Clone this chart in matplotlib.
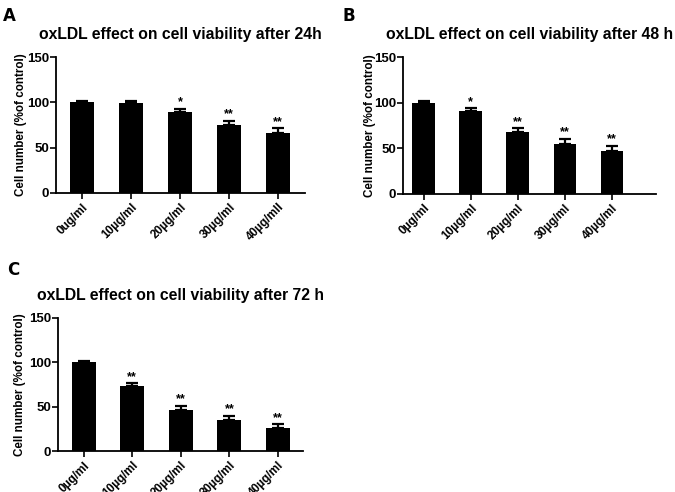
import matplotlib
matplotlib.use("Agg")
import matplotlib.pyplot as plt

plt.rcParams['font.family'] = ['Liberation Sans', 'DejaVu Sans']
plt.rcParams['font.weight'] = 'bold'

# data
labels_a = ["0ug/ml", "10µg/ml", "20µg/ml", "30µg/ml", "40µg/mll"]
labels_bc = ["0µg/ml", "10µg/ml", "20µg/ml", "30µg/ml", "40µg/ml"]

means_24h = [100, 99.5, 89.5, 75.5, 66]
err_24h = [1, 1.5, 3.5, 4, 5.5]
stars_24h = ["", "", "*", "**", "**"]

means_48h = [100, 90.5, 68, 55, 47.5]
err_48h = [1.5, 3.5, 4, 5.5, 5]
stars_48h = ["", "*", "**", "**", "**"]

means_72h = [100, 73, 46.5, 35.5, 26]
err_72h = [1.5, 3.5, 4.5, 4.5, 4]
stars_72h = ["", "**", "**", "**", "**"]

fig = plt.figure(figsize=(6.75, 4.92), dpi=100)


def panel(rect, means, errs, stars, labels, title, xlim, width, ylab_x):
    ax = fig.add_axes(rect)
    x = range(len(means))
    ax.bar(x, means, width=width, color="black")
    ax.errorbar(x, means, yerr=[[0] * len(errs), errs], fmt="none",
                ecolor="black", elinewidth=1.6, capsize=4, capthick=1.6)
    for i, s in enumerate(stars):
        if s:
            ax.text(i, means[i] + errs[i] + 0.5, s, ha="center", va="bottom",
                    fontsize=9, fontweight="bold")
    ax.set_ylim(0, 150)
    ax.set_xlim(*xlim)
    ax.set_yticks([0, 50, 100, 150])
    ax.set_xticks(list(x))
    ax.set_xticklabels(labels, rotation=45, ha="right", rotation_mode="anchor",
                       fontsize=8.5, fontweight="bold")
    ax.tick_params(axis="y", labelsize=9.5, length=4, width=1.2, pad=1)
    ax.tick_params(axis="x", length=4, width=1.2, pad=2)
    for s in ["top", "right"]:
        ax.spines[s].set_visible(False)
    for s in ["left", "bottom"]:
        ax.spines[s].set_linewidth(1.3)
    ax.set_ylabel("Cell number (%of control)", fontsize=8.4, fontweight="bold")
    ax.yaxis.set_label_coords(ylab_x, 0.5)
    ax.set_title(title, fontsize=11.3, fontweight="bold", pad=13)
    return ax


panel([0.083, 0.608, 0.369, 0.276], means_24h, err_24h, stars_24h, labels_a,
      "oxLDL effect on cell viability after 24h", (-0.53, 4.55), 0.5, -0.118)
panel([0.597, 0.606, 0.375, 0.278], means_48h, err_48h, stars_48h, labels_bc,
      "oxLDL effect on cell viability after 48 h", (-0.44, 4.94), 0.48, -0.107)
panel([0.086, 0.083, 0.363, 0.271], means_72h, err_72h, stars_72h, labels_bc,
      "oxLDL effect on cell viability after 72 h", (-0.53, 4.52), 0.5, -0.13)

for lab, xx, yy in [("A", 0.004, 0.985), ("B", 0.507, 0.985), ("C", 0.010, 0.47)]:
    fig.text(xx, yy, lab, fontsize=12, fontweight="bold", va="top",
             family=['Liberation Sans Narrow', 'DejaVu Sans'])

fig.savefig("out.png", dpi=100)
